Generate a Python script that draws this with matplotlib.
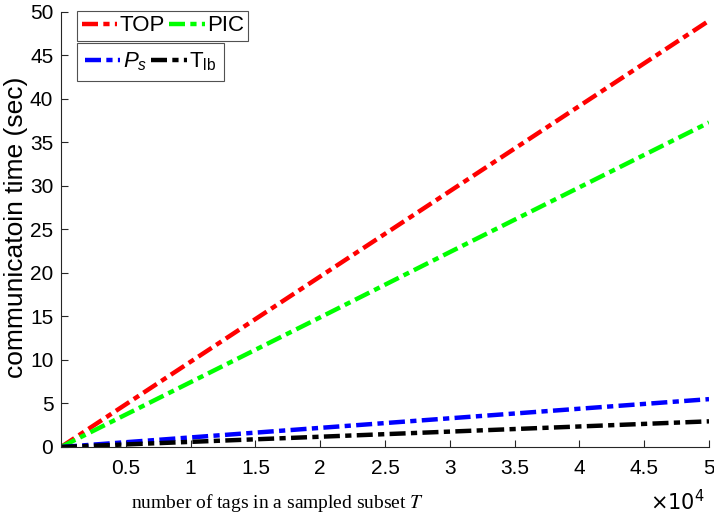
import numpy as np
import matplotlib.pyplot as plt
from matplotlib.font_manager import FontProperties

plt.rcParams['font.family'] = ['Liberation Sans', 'DejaVu Sans']
plt.rcParams['mathtext.fontset'] = 'custom'
plt.rcParams['mathtext.rm'] = 'Liberation Sans'
plt.rcParams['mathtext.it'] = 'Liberation Sans:italic'

# data
tags = [0, 10000, 20000, 30000, 40000, 50000]
t_top = [0, 9.8, 19.6, 29.4, 39.2, 49.0]
t_pic = [0, 7.45, 14.9, 22.4, 29.85, 37.3]
t_ps = [0, 1.1, 2.2, 3.3, 4.4, 5.5]
t_lb = [0, 0.59, 1.18, 1.77, 2.36, 2.95]

fig = plt.figure(figsize=(7.14, 5.17), dpi=100)
ax = fig.add_axes([0.0854, 0.1354, 0.9076, 0.8414])

dd = (0, (3.6, 1.2, 1.4, 1.2))  # matlab-ish dash-dot
l1, = ax.plot(tags, t_top, ls=dd, color=(1, 0, 0), lw=3.2)
l2, = ax.plot(tags, t_pic, ls=dd, color=(0, 1, 0), lw=3.2)
l3, = ax.plot(tags, t_ps, ls=dd, color=(0, 0, 1), lw=3.2)
l4, = ax.plot(tags, t_lb, ls=dd, color=(0, 0, 0), lw=3.2)

ax.set_xlim(0, 50000)
ax.set_ylim(0, 50)
ax.set_xticks(np.arange(5000, 50001, 5000))
ax.set_xticklabels(['0.5', '1', '1.5', '2', '2.5', '3', '3.5', '4', '4.5', '5'])
ax.set_yticks(np.arange(0, 51, 5))
ax.tick_params(direction='in', labelsize=15, length=5, color='#262626')
ax.tick_params(axis='x', pad=9)
ax.tick_params(axis='y', pad=5.5)
for s in ['top', 'right']:
    ax.spines[s].set_visible(False)
for s in ['left', 'bottom']:
    ax.spines[s].set_color('#262626')
    ax.spines[s].set_linewidth(0.8)

ax.set_ylabel('communicatoin time (sec)', fontsize=19, va='center', ha='center')
ax.yaxis.set_label_coords(-0.07, 0.505)
ax.set_xlabel('number of tags in a sampled subset $T$', va='center', ha='center',
              fontproperties=FontProperties(family='Liberation Serif', size=14,
                                            math_fontfamily='stix'))
ax.xaxis.set_label_coords(0.335, -0.129)
fig.text(0.987, 0.0135, r'$\times10^4$', ha='right', va='baseline', fontsize=15,
         math_fontfamily='dejavusans')

leg_kw = dict(loc='upper left', ncol=2, fontsize=16, frameon=True, fancybox=False,
              edgecolor='#262626', handlelength=1.6, handletextpad=0.1,
              columnspacing=0.2, borderpad=0.2, borderaxespad=0)
leg1 = fig.legend([l1, l2], ['TOP', 'PIC'], bbox_to_anchor=(0.108, 0.979), **leg_kw)
leg1.get_frame().set_linewidth(0.8)
leg2 = fig.legend([l3, l4], ['$P_s$', 'T$_{\\mathrm{lb}}$'],
                  bbox_to_anchor=(0.108, 0.917), borderpad=0.35,
                  **{k: v for k, v in leg_kw.items() if k != 'borderpad'})
leg2.get_frame().set_linewidth(0.8)

fig.savefig('out.png', dpi=100)
